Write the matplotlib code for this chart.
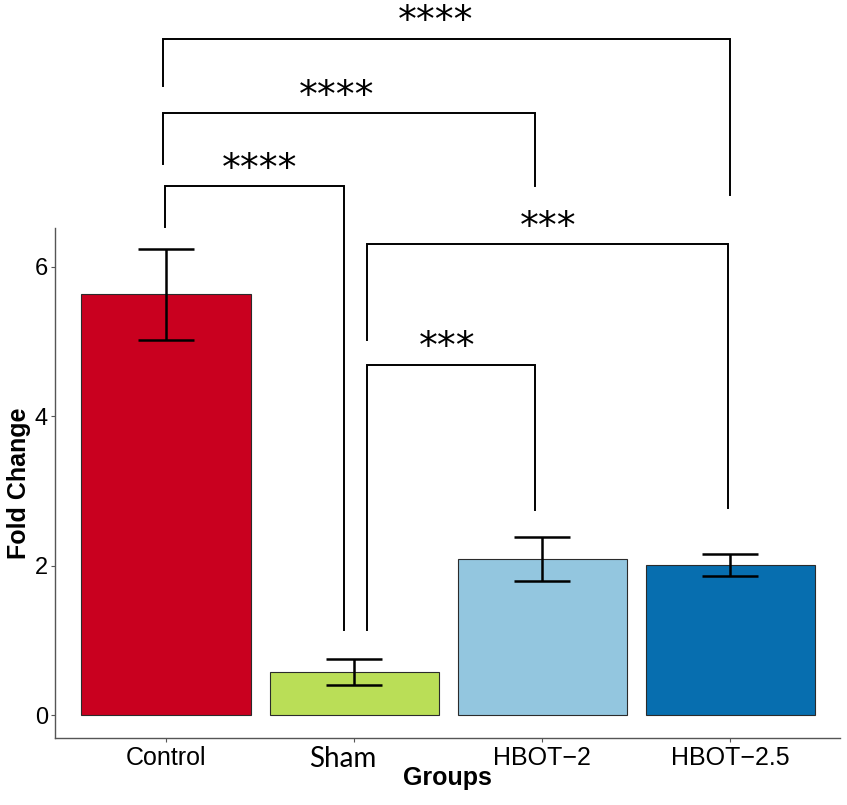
import matplotlib
matplotlib.use("Agg")
import matplotlib.pyplot as plt
from matplotlib.transforms import ScaledTranslation

# ---- data ----
groups = ["Control", "Sham", "HBOT\u22122", "HBOT\u22122.5"]
means = [5.63, 0.58, 2.09, 2.01]
sds = [0.61, 0.17, 0.29, 0.145]
colors = ["#C9001F", "#BADE57", "#93C6DF", "#076EAF"]

# significance comparisons: (group_a, group_b, label)
comparisons = [
    (0, 3, "****"),
    (0, 2, "****"),
    (0, 1, "****"),
    (1, 3, "***"),
    (1, 2, "***"),
]

# ---- layout of brackets (x-offsets from group centers, bar height, leg ends, label x) ----
bracket_layout = [
    # dx_a, dx_b, y_bar, y_end_a, y_end_b, label_x
    (-0.018, -0.003, 9.05, 8.41, 6.96, 2.433),
    (-0.018, -0.039, 8.05, 7.37, 7.08, 1.907),
    (-0.005, -0.054, 7.08, 6.53, 1.14, 1.500),
    (0.067, -0.013, 6.30, 5.02, 2.77, 3.030),
    (0.067, -0.039, 4.69, 1.14, 2.75, 2.495),
]

plt.rcParams["font.family"] = ["Liberation Sans", "DejaVu Sans"]

fig = plt.figure(figsize=(8.47, 8.05), dpi=100)
ax = fig.add_axes([55 / 847, 1 - 738 / 805, 785 / 847, 510 / 805])

x = list(range(1, len(groups) + 1))
ax.bar(x, means, width=0.9, color=colors, edgecolor="#2b2b2b", linewidth=0.8, zorder=2)
ax.errorbar(x, means, yerr=sds, fmt="none", ecolor="black", elinewidth=1.8,
            capsize=20, capthick=1.8, zorder=3)

ax.set_xlim(0.41, 4.582)
ax.set_ylim(-0.301, 6.517)
ax.set_yticks([0, 2, 4, 6])
ax.set_xticks(x)
ax.set_xticklabels(groups)

for s in ["top", "right"]:
    ax.spines[s].set_visible(False)
for s in ["left", "bottom"]:
    ax.spines[s].set_color("#555555")
    ax.spines[s].set_linewidth(1.0)
ax.tick_params(axis="both", colors="#555555", length=3, width=0.8)
ax.tick_params(axis="y", labelsize=17, labelcolor="black", pad=2)
ax.tick_params(axis="x", labelsize=18, labelcolor="black", pad=3)
for lab in ax.get_xticklabels():
    if lab.get_text() == "Sham":
        lab.set_family(["Lato", "DejaVu Sans"])
        lab.set_fontsize(20)
        lab.set_transform(lab.get_transform() +
                          ScaledTranslation(-0.11, 0, fig.dpi_scale_trans))

ax.set_ylabel("Fold Change", fontsize=18, fontweight="bold")
ax.set_xlabel("Groups", fontsize=18, fontweight="bold")
ax.yaxis.set_label_coords(-0.031, 0.5)
ax.xaxis.set_label_coords(0.5, -0.054)

# ---- significance brackets ----
for (a, b, lab), (dxa, dxb, yb, ya, yb2, lx) in zip(comparisons, bracket_layout):
    xa = x[a] + dxa
    xb = x[b] + dxb
    ax.plot([xa, xa, xb, xb], [ya, yb, yb, yb2], color="black", lw=1.4,
            clip_on=False, zorder=4, solid_joinstyle="miter")
    ax.annotate(lab, xy=(lx, yb + 0.325), xytext=(0, -13),
                textcoords="offset points", ha="center", va="baseline",
                fontsize=27, family="DejaVu Sans", annotation_clip=False)

fig.savefig("out.png", dpi=100)
